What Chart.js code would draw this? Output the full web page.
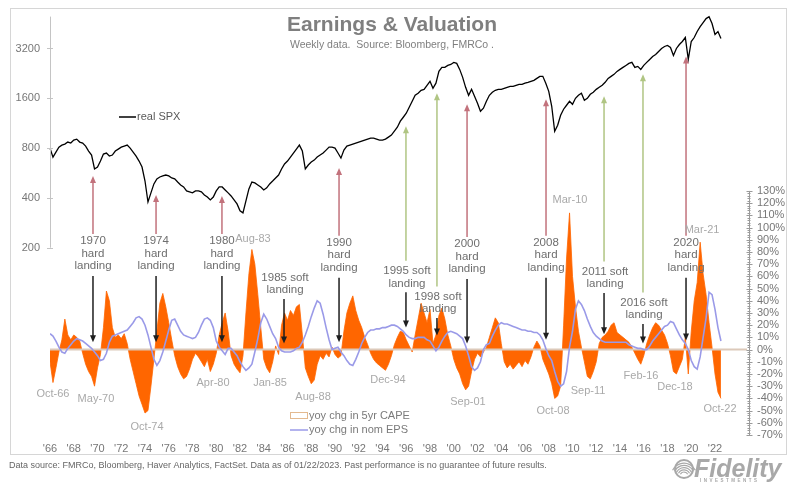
<!DOCTYPE html>
<html>
<head>
<meta charset="utf-8">
<script src="https://cdn.jsdelivr.net/npm/chart.js@4.4.1/dist/chart.umd.min.js"></script>
<style>
  html, body { margin: 0; padding: 0; background: #fff; }
  canvas { display: block; }
</style>
</head>
<body>
<canvas id="chart" width="800" height="494"></canvas>
<script>
// quarterly samples, starting 1966
const startYear = 1966;
const stepYears = 0.25;

const spx = [
  800, 706, 757, 811, 834, 846, 870, 858, 894, 906,
  870, 858, 823, 768, 726, 598, 615, 668, 736, 747,
  716, 726, 768, 789, 811, 823, 834, 800, 757, 716,
  668, 615, 506, 378, 429, 486, 521, 535, 543, 550,
  543, 528, 521, 499, 479, 466, 441, 435, 429, 441,
  441, 435, 417, 405, 389, 405, 441, 466, 466, 447,
  429, 411, 389, 368, 334, 325, 384, 453, 499, 493,
  479, 466, 447, 460, 486, 506, 528, 550, 598, 641,
  668, 706, 747, 789, 834, 768, 598, 632, 659, 677,
  706, 726, 747, 778, 811, 811, 800, 747, 696, 778,
  823, 834, 846, 858, 870, 882, 894, 906, 919, 919,
  906, 894, 894, 906, 932, 958, 1012, 1070, 1163, 1229,
  1300, 1412, 1535, 1668, 1715, 1788, 1812, 1917, 2025, 1838,
  1975, 2326, 2459, 2459, 2528, 2563, 2636, 2600, 2392, 2141,
  1864, 1668, 1812, 1645, 1493, 1336, 1393, 1535, 1668, 1739,
  1788, 1812, 1812, 1838, 1864, 1890, 1890, 1917, 1943, 1943,
  1975, 1998, 2025, 2053, 2111, 2171, 2171, 1975, 1763, 1432,
  1012, 1100, 1264, 1374, 1452, 1535, 1472, 1600, 1668, 1715,
  1556, 1600, 1691, 1739, 1812, 1864, 1917, 1998, 2111, 2171,
  2232, 2326, 2392, 2459, 2528, 2599, 2636, 2459, 2494, 2392,
  2528, 2636, 2747, 2865, 2944, 3070, 3200, 3290, 3336, 3245,
  2904, 3200, 3382, 3526, 3727, 2747, 3526, 3727, 4051, 4342,
  4589, 4850, 4980, 4525, 3885, 4051, 3676
];

const cape = [
  -10, -27, -15, -2, 8, 25, 12, 8, 12, 10,
  7, -3, -12, -18, -22, -30, -15, -4, 18, 48,
  40, 18, 10, 12, 9, 13, 5, -8, -18, -28,
  -38, -45, -52, -50, -30, -8, 15, 38, 46, 35,
  22, 8, -5, -14, -20, -24, -22, -16, -8, -3,
  -6, -10, -14, -8, -18, -12, -3, 12, 22, 30,
  15, -5, -12, -16, -19, -5, 30, 62, 82, 70,
  45, 18, -8, -15, -19, -10, 3, -4, 20, 30,
  24, 32, 28, 35, 37, 12, -15, -22, -28, -25,
  -12, -5, -8, -3, -6, 2, -4, -7, -5, 15,
  30, 38, 44, 32, 24, 18, 10, 4, -3, -8,
  -11, -13, -15, -17, -12, -5, 4, 10, 15, 14,
  8, 3, -2, 12, 25, 38, 30, 22, 33, 5,
  12, 28, 34, 25, 12, 3, -8, -15, -20, -28,
  -33, -30, -18, -8, -3, -6, -2, 2, 10, 18,
  26, 22, 5, -10, -15, -12, -16, -13, -10, -14,
  -9, -12, -6, 2, 7, 3, -8, -14, -20, -28,
  -40, -38, -30, 20, 75, 112, 60, 35, 15, 2,
  -10, -22, -24, -18, -10, 5, 10, 12, 15, 20,
  22, 14, 12, 10, 8, 6, 2, -3, -8, -12,
  -5, 5, 12, 18, 22, 20, 16, 12, 5, -5,
  -18, -20, -14, -8, 10, -20, 15, 40, 55, 88,
  62, 45, 22, 2, -20, -35, -40
];

const eps = [
  13, 11, 7, 2, -2, -3, 1, 4, 7, 9,
  8, 7, 5, 3, 1, -2, -5, -9, -8, -3,
  6, 11, 12, 13, 14, 15, 16, 19, 22, 26,
  27, 25, 20, 12, 2, -8, -13, -9, -2, 7,
  16, 24, 25, 20, 15, 12, 11, 10, 9, 10,
  14, 20, 25, 26, 24, 18, 7, 2, -1, -4,
  1, 1, -2, -5, -10, -14, -17, -15, -12, -2,
  9, 22, 29, 25, 19, 13, 9, 2, -1, -2,
  -2, -2, -1, 1, 2, 6, 12, 19, 27, 34,
  40, 38, 29, 18, 8, 0, 1, 2, -2, -5,
  -9, -12, -13, -8, -2, 5, 10, 14, 16, 16,
  17, 17, 18, 18, 19, 20, 20, 19, 17, 15,
  12, 10, 9, 9, 10, 10, 10, 8, 7, 3,
  -1, 2, 7, 11, 14, 15, 14, 13, 11, 9,
  3, -5, -14, -17, -15, -10, 0, 4, 5, 11,
  16, 20, 22, 21, 21, 20, 19, 18, 17, 16,
  16, 15, 15, 14, 14, 12, 8, 1, -5, -9,
  -18, -26, -30, -28, -18, 2, 15, 33, 40, 37,
  32, 25, 19, 14, 11, 9, 7, 6, 6, 6,
  6, 6, 6, 6, 6, 4, 3, 2, 1, 1,
  0, 0, 3, 7, 10, 13, 16, 19, 20, 23,
  22, 17, 12, 8, 5, 0, -9, -14, -16, -6,
  10, 26, 47, 45, 33, 18, 7
];

const xTickYears = [1966, 1968, 1970, 1972, 1974, 1976, 1978, 1980, 1982, 1984, 1986, 1988, 1990, 1992, 1994,
  1996, 1998, 2000, 2002, 2004, 2006, 2008, 2010, 2012, 2014, 2016, 2018, 2020, 2022];
const spxTicks = [200, 400, 800, 1600, 3200];
const pctTicks = [-70, -60, -50, -40, -30, -20, -10, 0, 10, 20, 30, 40, 50, 60, 70, 80, 90, 100, 110, 120, 130];

// call-outs: year on the axis, pct level of the first text line, SPX level the arrow reaches, pct level of the black arrow tip
const hardLandings = [
  { label: '1970', t: 1969.62, textPct: 89, spxTip: 543, tipPct: 6 },
  { label: '1974', t: 1974.93, textPct: 89, spxTip: 417, tipPct: 6 },
  { label: '1980', t: 1980.48, textPct: 89, spxTip: 411, tipPct: 6 },
  { label: '1990', t: 1990.34, textPct: 87.5, spxTip: 606, tipPct: 6 },
  { label: '2000', t: 2001.12, textPct: 86.5, spxTip: 1472, tipPct: 5 },
  { label: '2008', t: 2007.77, textPct: 87.5, spxTip: 1578, tipPct: 8 },
  { label: '2020', t: 2019.56, textPct: 87.5, spxTip: 2865, tipPct: 7.5 }
];
const softLandings = [
  { label: '1985', t: 1985.79, textPct: 59, spxTip: null, tipPct: 5 },
  { label: '1995', t: 1996.06, textPct: 64.5, spxTip: 1085, tipPct: 18 },
  { label: '1998', t: 1998.67, textPct: 43.5, spxTip: 1715, tipPct: 11.5 },
  { label: '2011', t: 2012.74, textPct: 64, spxTip: 1645, tipPct: 12.5 },
  { label: '2016', t: 2016.02, textPct: 38.5, spxTip: 2232, tipPct: 5 }
];
const dateLabels = [
  ['Oct-66', 1966.25, -36.5], ['May-70', 1969.87, -40.6], ['Oct-74', 1974.17, -63.5],
  ['Apr-80', 1979.73, -27.6], ['Jan-85', 1984.53, -27.6], ['Aug-88', 1988.15, -39],
  ['Dec-94', 1994.46, -25.1], ['Sep-01', 2001.2, -43.1], ['Oct-08', 2008.36, -50.4],
  ['Sep-11', 2011.31, -34.1], ['Feb-16', 2015.77, -21.8], ['Dec-18', 2018.63, -30.8],
  ['Oct-22', 2022.42, -48.8], ['Aug-83', 1983.09, 90.8], ['Mar-10', 2009.79, 122.7],
  ['Mar-21', 2020.91, 98.2]
];

const FONT = '"Liberation Sans", Arial, sans-serif';
const RED = '#c2727c';
const GREEN = '#b0c583';
const ORANGE = '#ff6600';
const LAVENDER = '#9a9ae8';

const toPoints = (arr) => arr.map((v, i) => ({ x: startYear + i * stepYears, y: v }));

function arrow(ctx, x, y1, y2, color) {
  const dir = y2 > y1 ? 1 : -1;
  ctx.strokeStyle = color;
  ctx.fillStyle = color;
  ctx.lineWidth = 1.5;
  ctx.beginPath();
  ctx.moveTo(x, y1);
  ctx.lineTo(x, y2 - dir * 5);
  ctx.stroke();
  ctx.beginPath();
  ctx.moveTo(x, y2);
  ctx.lineTo(x - 3, y2 - dir * 7);
  ctx.lineTo(x + 3, y2 - dir * 7);
  ctx.closePath();
  ctx.fill();
}

function text(ctx, str, x, y, size, color, align, weight) {
  ctx.font = (weight || '') + ' ' + size + 'px ' + FONT;
  ctx.fillStyle = color;
  ctx.textAlign = align || 'center';
  ctx.textBaseline = 'middle';
  ctx.fillText(str, x, y);
}

const decor = {
  id: 'decor',
  beforeDraw(chart) {
    const ctx = chart.ctx;
    ctx.save();
    ctx.fillStyle = '#fff';
    ctx.fillRect(0, 0, chart.width, chart.height);
    ctx.strokeStyle = '#d6d6d6';
    ctx.lineWidth = 1;
    ctx.strokeRect(10.5, 8.5, 776, 446);
    ctx.restore();
  },
  afterDatasetDraw(chart, args) {
    if (args.index !== 0) return;
    const ctx = chart.ctx, yR = chart.scales.yR, a = chart.chartArea;
    ctx.save();
    ctx.strokeStyle = '#dcc9ba';
    ctx.lineWidth = 2;
    ctx.beginPath();
    ctx.moveTo(a.left, yR.getPixelForValue(0));
    ctx.lineTo(a.right - 2, yR.getPixelForValue(0));
    ctx.stroke();
    ctx.restore();
  },
  afterDatasetsDraw(chart) {
    const ctx = chart.ctx;
    const x = chart.scales.x, yL = chart.scales.yL, yR = chart.scales.yR;
    const a = chart.chartArea;
    ctx.save();

    // left axis (SPX), only over the upper panel
    ctx.strokeStyle = '#c4c4c4';
    ctx.lineWidth = 1;
    ctx.beginPath();
    ctx.moveTo(a.left + 0.5, a.top);
    ctx.lineTo(a.left + 0.5, yL.getPixelForValue(200));
    spxTicks.forEach(v => {
      const py = Math.round(yL.getPixelForValue(v)) + 0.5;
      ctx.moveTo(a.left - 3, py);
      ctx.lineTo(a.left + 3, py);
    });
    ctx.stroke();

    // right axis (%), with minor ticks every 2%
    const rx = a.right + 0.5;
    ctx.strokeStyle = '#9a9a9a';
    ctx.beginPath();
    ctx.moveTo(rx, yR.getPixelForValue(130));
    ctx.lineTo(rx, yR.getPixelForValue(-70));
    for (let v = -70; v <= 130; v += 2) {
      const py = Math.round(yR.getPixelForValue(v)) + 0.5;
      if (v % 10 === 0) {
        ctx.moveTo(rx - 3, py);
        ctx.lineTo(rx + 3, py);
      } else {
        ctx.moveTo(rx - 2, py);
        ctx.lineTo(rx + 1, py);
      }
    }
    ctx.stroke();

    // landing call-outs
    const lh = 12.5;
    hardLandings.forEach(h => {
      const px = x.getPixelForValue(h.t);
      const ty = yR.getPixelForValue(h.textPct);
      text(ctx, h.label, px, ty, 11.5, '#6e6e6e');
      text(ctx, 'hard', px, ty + lh, 11.5, '#6e6e6e');
      text(ctx, 'landing', px, ty + 2 * lh, 11.5, '#6e6e6e');
      arrow(ctx, px, ty - 7, yL.getPixelForValue(h.spxTip), RED);
      arrow(ctx, px, ty + 2 * lh + 10, yR.getPixelForValue(h.tipPct), '#1e1e1e');
    });
    softLandings.forEach(s => {
      const px = x.getPixelForValue(s.t);
      const ty = yR.getPixelForValue(s.textPct);
      if (s.spxTip) arrow(ctx, px - 1, ty - 10, yL.getPixelForValue(s.spxTip), GREEN);
      text(ctx, s.label + ' soft', px, ty, 11.5, '#6e6e6e');
      text(ctx, 'landing', px, ty + lh, 11.5, '#6e6e6e');
      arrow(ctx, px - 1, ty + lh + 9, yR.getPixelForValue(s.tipPct), '#1e1e1e');
    });
    dateLabels.forEach(d => {
      text(ctx, d[0], x.getPixelForValue(d[1]), yR.getPixelForValue(d[2]), 11, '#a9a9a9');
    });

    // titles
    text(ctx, 'Earnings & Valuation', 392, 25, 21, '#7f7f7f', 'center', 'bold');
    text(ctx, 'Weekly data.  Source: Bloomberg, FMRCo .', 392, 45, 10.5, '#7f7f7f');

    // legends
    ctx.strokeStyle = '#000';
    ctx.lineWidth = 1.5;
    ctx.beginPath();
    ctx.moveTo(119, 117);
    ctx.lineTo(136, 117);
    ctx.stroke();
    text(ctx, 'real SPX', 137, 117, 11, '#595959', 'left');

    ctx.strokeStyle = '#e3b98f';
    ctx.lineWidth = 1;
    ctx.strokeRect(290.5, 412.5, 17, 6);
    text(ctx, 'yoy chg in 5yr CAPE', 309, 415.5, 11, '#7a7a7a', 'left');
    ctx.strokeStyle = LAVENDER;
    ctx.lineWidth = 1.5;
    ctx.beginPath();
    ctx.moveTo(290, 430);
    ctx.lineTo(308, 430);
    ctx.stroke();
    text(ctx, 'yoy chg in nom EPS', 309, 430, 11, '#7a7a7a', 'left');

    // footer
    text(ctx, 'Data source: FMRCo, Bloomberg, Haver Analytics, FactSet. Data as of 01/22/2023. Past performance is no guarantee of future results.',
      9, 466, 9, '#666', 'left');

    // Fidelity mark
    ctx.strokeStyle = '#a8a8a8';
    ctx.lineWidth = 2;
    ctx.beginPath();
    ctx.arc(684, 469, 9, 0, Math.PI * 2);
    ctx.stroke();
    ctx.lineWidth = 1.2;
    for (let k = 0; k < 5; k++) {
      ctx.beginPath();
      ctx.arc(684, 476, 4 + k * 2.2, Math.PI * 1.15, Math.PI * 1.85);
      ctx.stroke();
    }
    ctx.font = 'italic bold 25px ' + FONT;
    ctx.fillStyle = '#a8a8a8';
    ctx.textAlign = 'left';
    ctx.textBaseline = 'alphabetic';
    ctx.fillText('Fidelity', 694, 477);
    ctx.font = 'bold 4.5px ' + FONT;
    ctx.fillText('I  N  V  E  S  T  M  E  N  T  S', 700, 482);

    ctx.restore();
  }
};

new Chart(document.getElementById('chart'), {
  type: 'line',
  data: {
    datasets: [
      {
        label: 'yoy chg in 5yr CAPE',
        data: toPoints(cape),
        yAxisID: 'yR',
        fill: 'origin',
        backgroundColor: ORANGE,
        borderColor: ORANGE,
        borderWidth: 0.8,
        pointRadius: 0,
        order: 3
      },
      {
        label: 'yoy chg in nom EPS',
        data: toPoints(eps),
        yAxisID: 'yR',
        fill: false,
        borderColor: LAVENDER,
        borderWidth: 1.6,
        pointRadius: 0,
        order: 2
      },
      {
        label: 'real SPX',
        data: toPoints(spx),
        yAxisID: 'yL',
        fill: false,
        borderColor: '#000',
        borderWidth: 1.3,
        pointRadius: 0,
        clip: false,
        order: 1
      }
    ]
  },
  options: {
    responsive: false,
    animation: false,
    events: [],
    layout: { autoPadding: false, padding: { left: 10, right: 0, top: 15, bottom: 39 } },
    plugins: { legend: { display: false }, tooltip: { enabled: false } },
    scales: {
      x: {
        type: 'linear',
        min: 1966,
        max: 1966 + 699 / 11.875,
        afterBuildTicks: s => { s.ticks = xTickYears.map(v => ({ value: v })); },
        afterFit: s => { s.height = 20; },
        grid: { drawOnChartArea: false, drawTicks: false },
        border: { display: false },
        ticks: {
          autoSkip: false, maxRotation: 0, padding: 7,
          color: '#777', font: { family: FONT, size: 11 },
          callback: v => "'" + String(v).slice(2)
        }
      },
      yL: {
        type: 'logarithmic',
        position: 'left',
        min: 200 / Math.pow(2, 3.76),
        max: 3200 * Math.pow(2, 0.64),
        afterBuildTicks: s => { s.ticks = spxTicks.map(v => ({ value: v })); },
        afterFit: s => { s.width = 40; },
        grid: { drawOnChartArea: false, drawTicks: false },
        border: { display: false },
        ticks: {
          padding: 10, color: '#777', font: { family: FONT, size: 11 },
          callback: v => String(v)
        }
      },
      yR: {
        type: 'linear',
        position: 'right',
        min: -70,
        max: -70 + 420 / 1.225,
        afterBuildTicks: s => { s.ticks = pctTicks.map(v => ({ value: v })); },
        afterFit: s => { s.width = 51; },
        grid: { drawOnChartArea: false, drawTicks: false },
        border: { display: false },
        ticks: {
          padding: 8, color: '#777', font: { family: FONT, size: 11 },
          callback: v => v + '%'
        }
      }
    }
  },
  plugins: [decor]
});
</script>
</body>
</html>
